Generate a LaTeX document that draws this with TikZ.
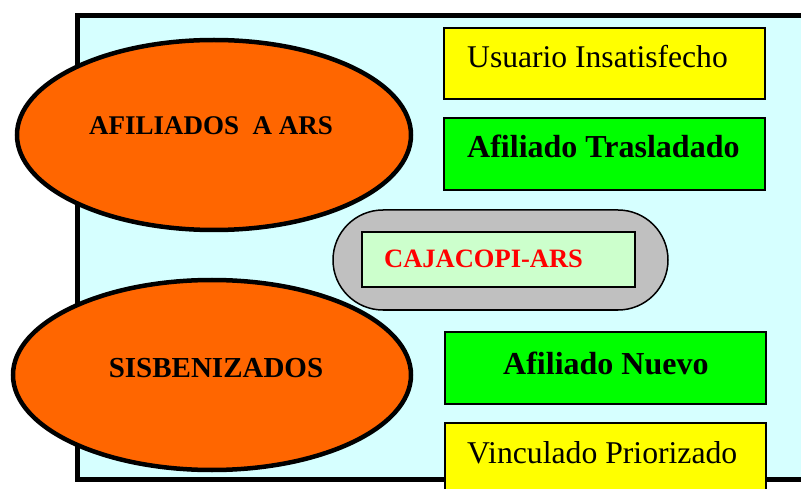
\documentclass[tikz,border=0pt]{standalone}
\usepackage{fontspec}
\setmainfont{Liberation Serif}
\definecolor{bgcyan}{RGB}{214,255,255}
\definecolor{orng}{RGB}{255,102,0}
\definecolor{grn}{RGB}{0,255,0}
\definecolor{ylw}{RGB}{255,255,0}
\definecolor{gry}{RGB}{192,192,192}
\definecolor{ltgrn}{RGB}{204,255,204}
\definecolor{rd}{RGB}{255,0,0}
\begin{document}
\begin{tikzpicture}[x=1pt,y=-1pt,
  oval/.style={draw=black,line width=4.5pt,fill=orng},
  labbox/.style={draw=black,line width=1.8pt},
  txt/.style={inner sep=0pt,anchor=base west,text=black}]
\useasboundingbox (0,0) rectangle (801,489);
\clip (0,0) rectangle (801,489);
% outer panel
\draw[line width=5pt,fill=bgcyan] (77,15.5) rectangle (840,479.5);
% ellipses
\draw[oval] (214,135) ellipse [x radius=197, y radius=95];
\draw[oval] (212,375) ellipse [x radius=199, y radius=95];
\node[inner sep=0pt,anchor=base] (t1) at (211,135) {\fontsize{27}{32}\selectfont\bfseries AFILIADOS\ \ A ARS};
\node[inner sep=0pt,anchor=base] (t2) at (216,377) {\fontsize{29}{34}\selectfont\bfseries SISBENIZADOS};
% stadium
\draw[fill=gry,line width=1.5pt,rounded corners=50pt] (333,210) rectangle (668,310);
\draw[fill=ltgrn,line width=1.8pt] (362,232) rectangle (635,287);
\node[txt,text=rd] (caja) at (384,268) {\fontsize{26.5}{31}\selectfont\bfseries CAJACOPI-ARS};
% boxes
\draw[labbox,fill=ylw] (444,28) rectangle (765,99);
\node[txt] (u) at (467,68) {\fontsize{31.6}{37}\selectfont Usuario Insatisfecho};
\draw[labbox,fill=grn] (444,118) rectangle (765,190);
\node[txt] (at) at (467,158) {\fontsize{32}{37}\selectfont\bfseries Afiliado Trasladado};
\draw[labbox,fill=grn] (445,332) rectangle (766,404);
\node[txt] (an) at (503,374) {\fontsize{32}{37}\selectfont\bfseries Afiliado Nuevo};
\draw[labbox,fill=ylw] (445,423) rectangle (766,520);
\node[txt] (vp) at (467,463) {\fontsize{31.7}{37}\selectfont Vinculado Priorizado};
\end{tikzpicture}
\end{document}
